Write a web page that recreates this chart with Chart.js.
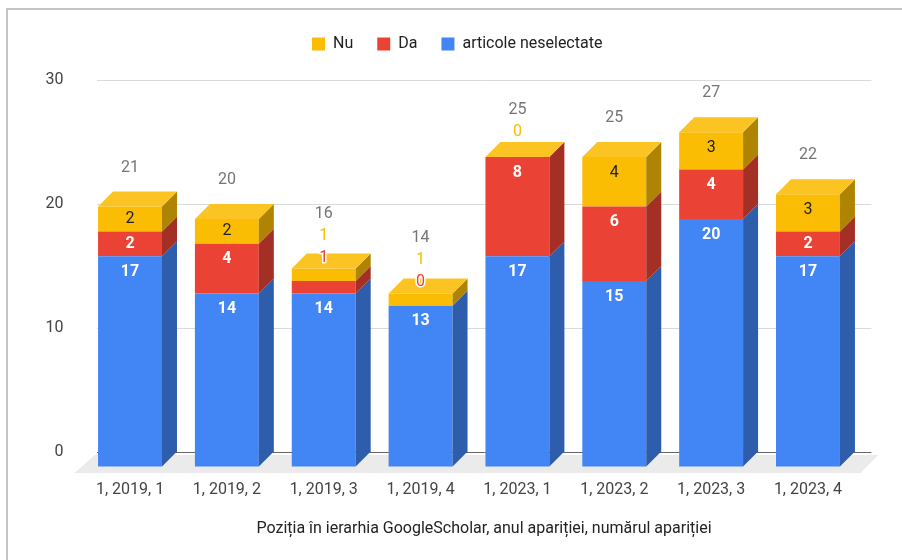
<!DOCTYPE html>
<html>
<head>
<meta charset="utf-8">
<script src="https://cdn.jsdelivr.net/npm/chart.js@4.4.1/dist/chart.umd.min.js"></script>
<style>
  html, body { margin: 0; padding: 0; background: #fff; }
  #wrap { position: relative; width: 902px; height: 560px; overflow: hidden; }
  #frame { position: absolute; left: 6px; top: 8px; width: 920px; height: 580px;
           border-left: 2px solid #c4c4c4; border-top: 2px solid #c4c4c4; pointer-events: none; }
</style>
</head>
<body>
<div id="wrap">
  <canvas id="chart" width="902" height="560"></canvas>
  <div id="frame"></div>
</div>
<script>
// DATA
const categories = ["1, 2019, 1", "1, 2019, 2", "1, 2019, 3", "1, 2019, 4",
                    "1, 2023, 1", "1, 2023, 2", "1, 2023, 3", "1, 2023, 4"];
const neselectate = [17, 14, 14, 13, 17, 15, 20, 17];
const da = [2, 4, 1, 0, 8, 6, 4, 2];
const nu = [2, 2, 1, 1, 0, 4, 3, 3];
const seriesNames = ["articole neselectate", "Da", "Nu"];
const yTicks = [0, 10, 20, 30];
const xTitle = "Poziția în ierarhia GoogleScholar, anul apariției, numărul apariției";

// STYLE
const colors = ['#4285f4', '#ea4335', '#fbbc04'];
const labelColors = ['#ffffff', '#ffffff', '#222222'];
const labelWeights = ['bold', 'bold', 'normal'];
const DEPTH = 15;
const FONT = 'Roboto';

function shade(hex, f) {
  const n = parseInt(hex.slice(1), 16);
  let r = n >> 16, g = (n >> 8) & 255, b = n & 255;
  if (f < 1) { r *= f; g *= f; b *= f; }
  else { const t = f - 1; r += (255 - r) * t; g += (255 - g) * t; b += (255 - b) * t; }
  return `rgb(${Math.round(r)},${Math.round(g)},${Math.round(b)})`;
}

// legend needs more room below it
const legendSpacing = {
  id: 'legendSpacing',
  beforeInit(chart) {
    const fit = chart.legend.fit;
    chart.legend.fit = function () { fit.call(this); this.height += 18; };
  }
};

// fake 3D: floor, shifted front faces, side + top faces, labels
const bars3d = {
  id: 'bars3d',
  beforeDatasetsDraw(chart) {
    const { ctx, chartArea: a, scales: { y } } = chart;
    const y0 = y.getPixelForValue(0);
    ctx.save();
    ctx.fillStyle = '#ebebeb';
    ctx.beginPath();
    ctx.moveTo(a.left - 2, y0 + 3);
    ctx.lineTo(a.right + 7, y0 + 3);
    ctx.lineTo(a.right - 11, y0 + 21);
    ctx.lineTo(a.left - 22, y0 + 21);
    ctx.closePath();
    ctx.fill();
    ctx.restore();
    ctx.save();
    ctx.translate(-DEPTH, DEPTH);
  },
  afterDatasetsDraw(chart) {
    const ctx = chart.ctx;
    ctx.restore();
    const sets = chart.data.datasets;
    const last = sets.length - 1;
    ctx.save();
    categories.forEach((cat, i) => {
      let topEl = null;
      sets.forEach((ds, d) => {
        const el = chart.getDatasetMeta(d).data[i];
        const { x, y, base, width } = el.getProps(['x', 'y', 'base', 'width'], true);
        const L = x - width / 2, R = x + width / 2;
        ctx.fillStyle = shade(colors[d], 0.7);
        ctx.beginPath();
        ctx.moveTo(R - DEPTH, y + DEPTH);
        ctx.lineTo(R, y);
        ctx.lineTo(R, base);
        ctx.lineTo(R - DEPTH, base + DEPTH);
        ctx.closePath();
        ctx.fill();
        if (d === last) {
          ctx.fillStyle = shade(colors[d], 1.12);
          ctx.beginPath();
          ctx.moveTo(L - DEPTH, y + DEPTH);
          ctx.lineTo(R - DEPTH, y + DEPTH);
          ctx.lineTo(R, y);
          ctx.lineTo(L, y);
          ctx.closePath();
          ctx.fill();
          topEl = { x, y };
        }
      });

      // labels
      ctx.textAlign = 'center';
      ctx.textBaseline = 'middle';
      const outside = [];
      let total = 0;
      sets.forEach((ds, d) => {
        const v = ds.data[i];
        total += v;
        const el = chart.getDatasetMeta(d).data[i];
        const { x, y, base } = el.getProps(['x', 'y', 'base'], true);
        const h = base - y;
        if (h >= 20) {
          ctx.font = `${labelWeights[d]} 16px ${FONT}`;
          ctx.fillStyle = labelColors[d];
          ctx.fillText(String(v), x - DEPTH, y + DEPTH + Math.min(h / 2, 15.5));
        } else {
          outside.push(d);
        }
      });
      const cx = topEl.x - DEPTH;
      const ft = topEl.y + DEPTH;
      const n = outside.length;
      const totalY = ft - 39 - 8 * n;
      ctx.font = `16px ${FONT}`;
      outside.forEach((d, k) => {
        const ly = totalY + 22 * (n - k);
        ctx.lineWidth = 3;
        ctx.strokeStyle = '#ffffff';
        ctx.lineJoin = 'round';
        ctx.strokeText(String(sets[d].data[i]), cx, ly);
        ctx.fillStyle = colors[d];
        ctx.fillText(String(sets[d].data[i]), cx, ly);
      });
      ctx.fillStyle = '#757575';
      ctx.fillText(String(total), cx, totalY);
    });
    ctx.restore();
  }
};

new Chart(document.getElementById('chart'), {
  type: 'bar',
  data: {
    labels: categories,
    datasets: [
      { label: seriesNames[0], data: neselectate, backgroundColor: colors[0], clip: false },
      { label: seriesNames[1], data: da, backgroundColor: colors[1], clip: false },
      { label: seriesNames[2], data: nu, backgroundColor: colors[2], clip: false }
    ]
  },
  options: {
    responsive: false,
    animation: false,
    layout: { padding: { left: 43, right: 30.6, top: 12, bottom: 17.4 } },
    datasets: { bar: { barPercentage: 0.66, categoryPercentage: 1 } },
    plugins: {
      legend: {
        reverse: true,
        labels: {
          boxWidth: 13, boxHeight: 13, padding: 24, color: '#222',
          font: { family: FONT, size: 16 }
        }
      },
      tooltip: { enabled: false }
    },
    scales: {
      x: {
        stacked: true,
        grid: { display: false, drawTicks: false },
        border: { display: false },
        ticks: { labelOffset: -DEPTH, padding: 28.4, color: '#444', font: { family: FONT, size: 16 } },
        title: { display: true, text: xTitle, color: '#222', font: { family: FONT, size: 16 }, padding: { top: -8.6, bottom: 4 } }
      },
      y: {
        stacked: true,
        min: 0,
        max: 30,
        afterBuildTicks: s => { s.ticks = yTicks.map(v => ({ value: v })); },
        afterFit: s => { s.width = 53.6; },
        grid: { drawTicks: false, color: c => (c.tick && c.tick.value === 0) ? '#666' : '#dadada' },
        border: { display: false },
        ticks: { padding: 33, color: '#444', font: { family: FONT, size: 16 } }
      }
    }
  },
  plugins: [legendSpacing, bars3d]
});
</script>
</body>
</html>
